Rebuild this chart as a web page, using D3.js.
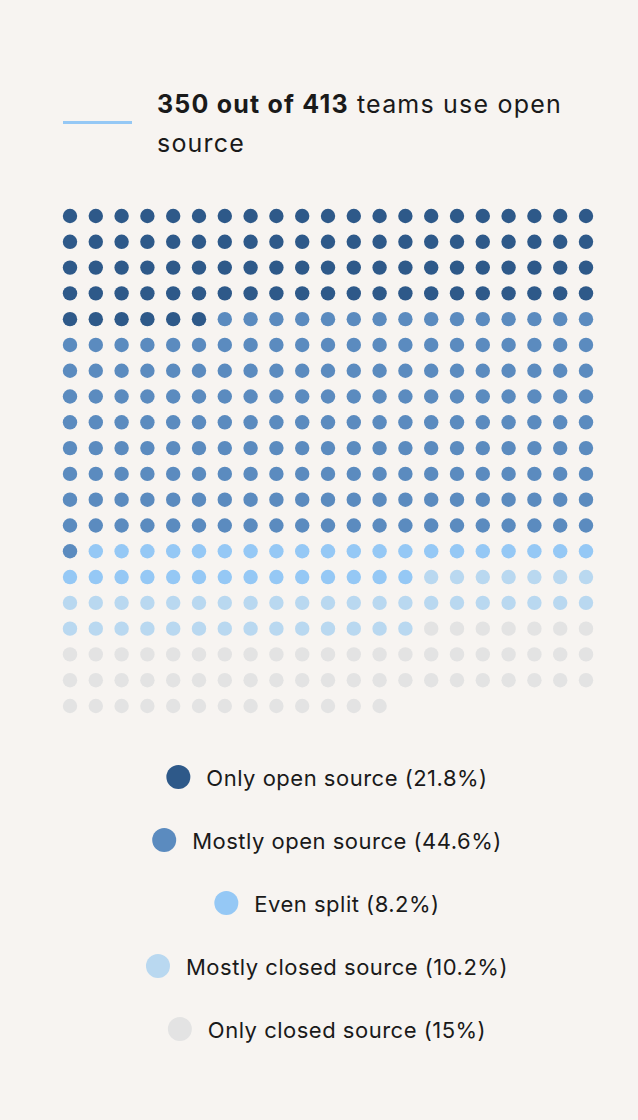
<!DOCTYPE html>
<html>
<head>
<meta charset="utf-8">
<script src="https://cdn.jsdelivr.net/npm/d3@7"></script>
<style>
  html, body { margin: 0; padding: 0; background: #f7f4f1; }
  svg { display: block; }
</style>
</head>
<body>
<svg id="chart" width="638" height="1120"></svg>
<script>
const categories = ["Only open source", "Mostly open source", "Even split", "Mostly closed source", "Only closed source"];
const counts = [90, 184, 34, 42, 62];
const percentLabels = ["21.8%", "44.6%", "8.2%", "10.2%", "15%"];
const colors = ["#2e5989", "#5b8bbf", "#95c8f5", "#b9d8f0", "#e3e3e3"];
const titleBold = "350 out of 413";
const titleRest1 = " teams use open";
const titleRest2 = "source";
const nCols = 21;

const svg = d3.select("#chart");
const W = 638;
const font = "Inter, 'Open Sans', sans-serif";
svg.append("rect").attr("width", W).attr("height", 1120).attr("fill", "#f7f4f1");

// header
svg.append("line").attr("x1", 63).attr("x2", 132).attr("y1", 122.5).attr("y2", 122.5)
  .attr("stroke", "#95c8f5").attr("stroke-width", 3);
const title = svg.append("text").attr("x", 157).attr("y", 113)
  .attr("font-family", font).attr("font-size", 25).attr("letter-spacing", 1.2).attr("fill", "#1a1a1a");
title.append("tspan").attr("font-weight", 700).text(titleBold);
title.append("tspan").attr("font-weight", 400).text(titleRest1);
svg.append("text").attr("x", 157).attr("y", 152)
  .attr("font-family", font).attr("font-size", 25).attr("letter-spacing", 1.2).attr("fill", "#1a1a1a")
  .text(titleRest2);

// waffle data
const dots = [];
categories.forEach((c, ci) => {
  for (let k = 0; k < counts[ci]; k++) dots.push({ cat: c, ci });
});
dots.forEach((d, i) => { d.col = i % nCols; d.row = Math.floor(i / nCols); });
const nRows = Math.ceil(dots.length / nCols);

const x = d3.scaleLinear().domain([0, nCols - 1]).range([70, 586]);
const y = d3.scaleLinear().domain([0, nRows - 1]).range([216, 706]);
const color = d3.scaleOrdinal().domain(categories).range(colors);

svg.append("g").selectAll("circle").data(dots).join("circle")
  .attr("cx", d => x(d.col)).attr("cy", d => y(d.row)).attr("r", 7.2)
  .attr("fill", d => color(d.cat));

// legend
const ly = d3.scalePoint().domain(categories).range([777, 1029]);
const legend = svg.append("g");
categories.forEach((c, i) => {
  const g = legend.append("g");
  const t = g.append("text").attr("font-family", font).attr("font-size", 22).attr("letter-spacing", 0.5)
    .attr("fill", "#1a1a1a")
    .attr("dominant-baseline", "central").attr("y", ly(c) + 1)
    .text(`${c} (${percentLabels[i]})`);
  const tw = t.node().getComputedTextLength();
  const total = 24 + 16 + tw;
  const x0 = 327 - total / 2;
  g.append("circle").attr("cx", x0 + 12).attr("cy", ly(c)).attr("r", 12).attr("fill", color(c));
  t.attr("x", x0 + 40);
});
</script>
</body>
</html>
